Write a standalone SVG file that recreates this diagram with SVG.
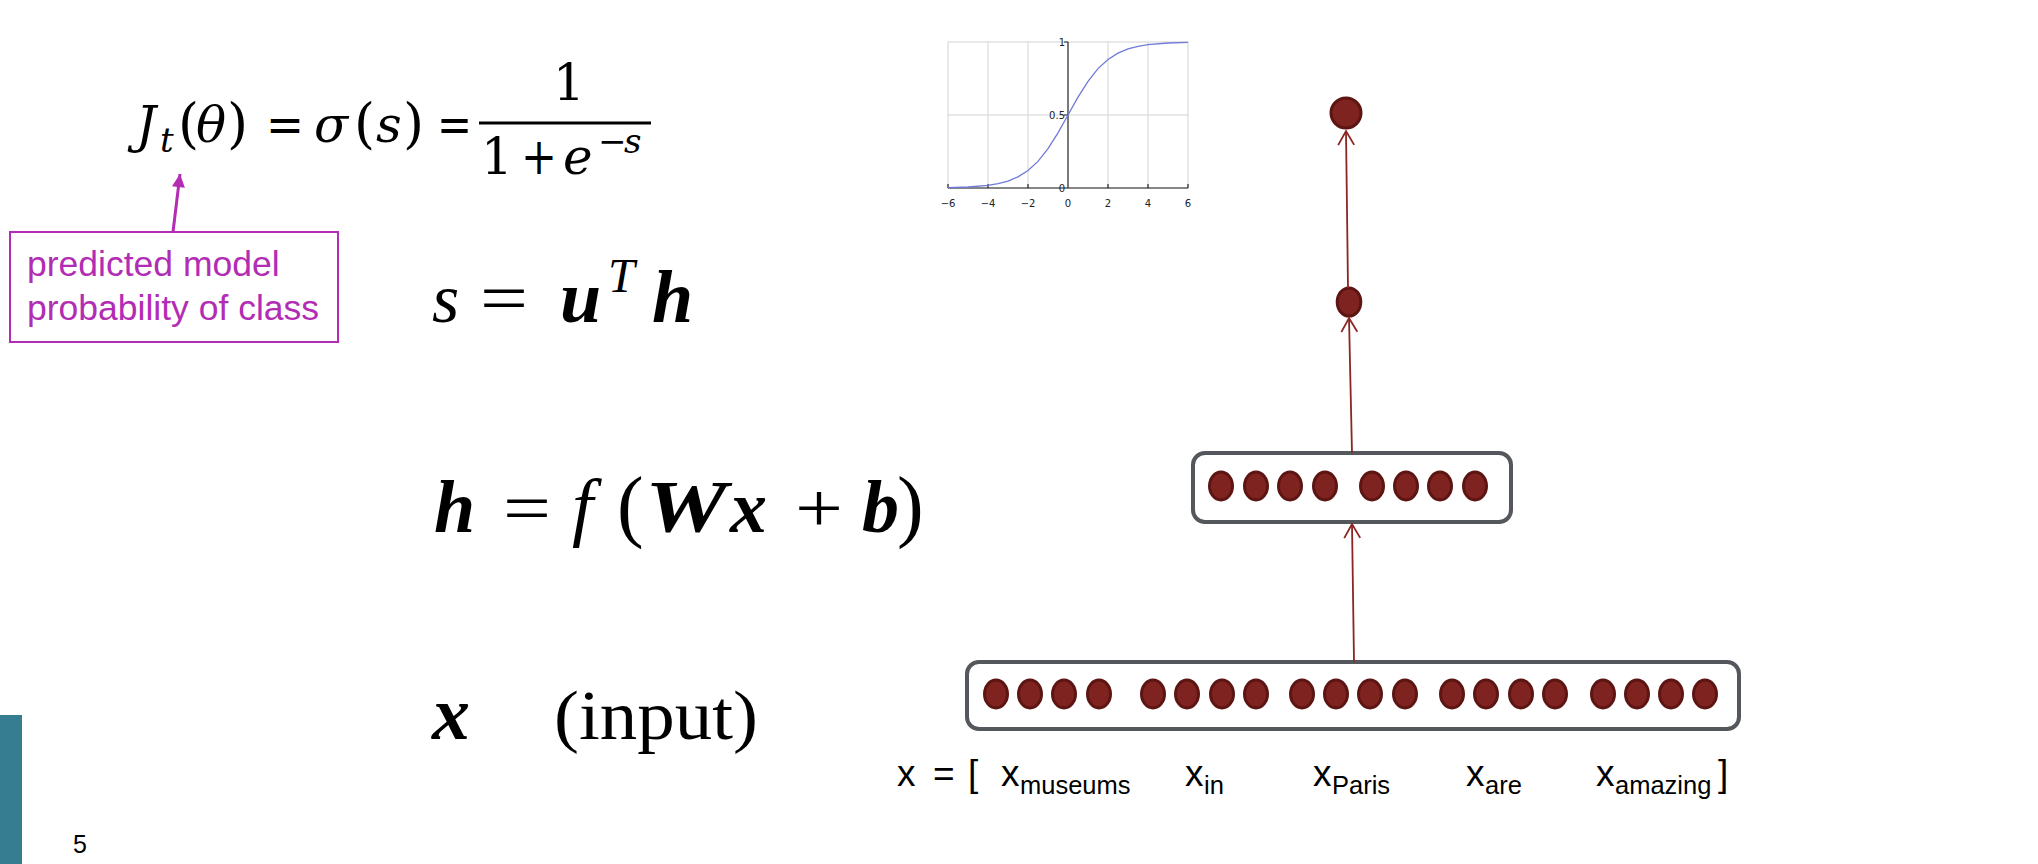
<svg xmlns="http://www.w3.org/2000/svg" width="2038" height="864" viewBox="0 0 2038 864">
<style>
.m{font-family:"Liberation Serif","DejaVu Serif",serif;fill:#000}
.c{font-family:"DejaVu Serif","Liberation Serif",serif;fill:#000}
.i{font-style:italic}
.bi{font-style:italic;font-weight:bold}
.lab{font-family:"Liberation Sans",Arial,sans-serif;fill:#000}
.ann{font-family:"Liberation Sans",Arial,sans-serif;fill:#b22cb4;font-size:35.5px}
.tick{font-family:"DejaVu Sans","Liberation Sans",sans-serif;font-size:10px;fill:#222}
.box{fill:#fff;stroke:#54575c;stroke-width:4}
.n{fill:#7f2320;stroke:#5c1512;stroke-width:3}
.grid{stroke:#d4d4d4;stroke-width:1;fill:none}
.ax{stroke:#222;stroke-width:1.2;fill:none}
.conn{stroke:#8b2622;stroke-width:1.8;fill:none}
</style>
<defs>
<marker id="open" viewBox="-16 -10 18 20" refX="0" refY="0" markerWidth="18" markerHeight="20" markerUnits="userSpaceOnUse" orient="auto">
<path d="M-14,-8 L0,0 L-14,8" fill="none" stroke="#8b2622" stroke-width="1.8"/>
</marker>
<marker id="mag" viewBox="-14 -8 16 16" refX="0" refY="0" markerWidth="16" markerHeight="16" markerUnits="userSpaceOnUse" orient="auto">
<path d="M-13,-6.5 L0,0 L-13,6.5 Z" fill="#b22cb4"/>
</marker>
</defs>
<rect width="2038" height="864" fill="#fff"/>

<g id="formula-sigmoid" class="c" font-size="50">
<text x="136" y="142" class="i">J</text>
<text x="160" y="152" class="i" font-size="34">t</text>
<text x="178" y="142" font-size="54">(</text>
<text x="196" y="142" class="i">θ</text>
<text x="227" y="142" font-size="54">)</text>
<text x="266" y="142" textLength="38" lengthAdjust="spacingAndGlyphs">=</text>
<text x="314" y="142" class="i">σ</text>
<text x="354" y="142" font-size="54">(</text>
<text x="376" y="142" class="i">s</text>
<text x="403" y="142" font-size="54">)</text>
<text x="437" y="142" textLength="35" lengthAdjust="spacingAndGlyphs">=</text>
<rect x="479" y="121.5" width="172" height="3"/>
<text x="553" y="100">1</text>
<text x="481" y="174">1</text>
<text x="521" y="174" textLength="36" lengthAdjust="spacingAndGlyphs">+</text>
<text x="563" y="174" class="i">e</text>
<text x="598" y="153" font-size="34">−</text>
<text x="624" y="153" font-size="34" class="i">s</text>
</g>

<g id="annotation">
<rect x="10" y="232" width="328" height="110" fill="#fff" stroke="#b22cb4" stroke-width="2"/>
<text x="27" y="276" class="ann">predicted model</text>
<text x="27" y="320" class="ann">probability of class</text>
</g>

<g id="formula-score" class="m" font-size="70">
<text x="432" y="322" class="i">s</text>
<text x="480" y="322" textLength="48" lengthAdjust="spacingAndGlyphs">=</text>
<text x="560" y="322" class="bi" font-size="74">u</text>
<text x="608" y="292" class="i" font-size="48">T</text>
<text x="652" y="322" class="bi" font-size="74">h</text>
</g>

<g id="formula-hidden" class="m" font-size="70">
<text x="434" y="532" class="bi" font-size="74">h</text>
<text x="503" y="532" textLength="48" lengthAdjust="spacingAndGlyphs">=</text>
<text x="572" y="532" class="i" font-size="76">f</text>
<text x="617" y="532" font-size="80">(</text>
<text x="645" y="532" class="bi" font-size="74" textLength="82" lengthAdjust="spacingAndGlyphs">W</text>
<text x="730" y="532" class="bi" font-size="74">x</text>
<text x="795" y="532" textLength="48" lengthAdjust="spacingAndGlyphs">+</text>
<text x="862" y="532" class="bi" font-size="74">b</text>
<text x="897" y="532" font-size="80">)</text>
</g>

<g id="formula-input" class="m" font-size="70">
<text x="432" y="739" class="bi" font-size="76">x</text>
<text x="554" y="739" textLength="204" lengthAdjust="spacingAndGlyphs">(input)</text>
</g>

<g id="sigmoid-plot">
<rect x="948" y="42" width="240" height="146" class="grid"/>
<path class="grid" d="M988,42V188M1028,42V188M1108,42V188M1148,42V188M948,115H1188"/>
<path class="ax" d="M948,188H1188M1068,42V188M948,188v-4M988,188v-4M1028,188v-4M1068,188v-4M1108,188v-4M1148,188v-4M1188,188v-4M1064,42H1068M1064,115H1068M1064,188H1068"/>
<path fill="none" stroke="#6f7ad8" stroke-width="1.3" d="M948,187.6 L968,187.0 L988,185.4 L998,183.7 L1008,181.1 L1018,176.9 L1028,170.6 L1038,161.4 L1048,148.7 L1058,132.9 L1068,115 L1078,97.1 L1088,81.3 L1098,68.6 L1108,59.4 L1118,53.1 L1128,48.9 L1138,46.3 L1148,44.6 L1168,43.0 L1188,42.4"/>
<g class="tick" text-anchor="middle">
<text x="948" y="207">−6</text>
<text x="988" y="207">−4</text>
<text x="1028" y="207">−2</text>
<text x="1068" y="207">0</text>
<text x="1108" y="207">2</text>
<text x="1148" y="207">4</text>
<text x="1188" y="207">6</text>
</g>
<g class="tick" text-anchor="end">
<text x="1065" y="46">1</text>
<text x="1065" y="119">0.5</text>
<text x="1065" y="192">0</text>
</g>
</g>

<g id="node-output">
<circle cx="1346" cy="113" r="15" class="n"/>
</g>
<g id="node-score">
<ellipse cx="1349" cy="302" rx="11.8" ry="14.1" class="n"/>
</g>
<g id="node-hidden">
<rect x="1193" y="453" width="318" height="69" rx="12" class="box"/>
<ellipse cx="1221" cy="486" rx="11.5" ry="14" class="n"/>
<ellipse cx="1256" cy="486" rx="11.5" ry="14" class="n"/>
<ellipse cx="1290" cy="486" rx="11.5" ry="14" class="n"/>
<ellipse cx="1325" cy="486" rx="11.5" ry="14" class="n"/>
<ellipse cx="1372" cy="486" rx="11.5" ry="14" class="n"/>
<ellipse cx="1406" cy="486" rx="11.5" ry="14" class="n"/>
<ellipse cx="1440" cy="486" rx="11.5" ry="14" class="n"/>
<ellipse cx="1475" cy="486" rx="11.5" ry="14" class="n"/>
</g>
<g id="node-input">
<rect x="967" y="662" width="772" height="67" rx="12" class="box"/>
<ellipse cx="996" cy="694" rx="11.5" ry="14" class="n"/>
<ellipse cx="1030" cy="694" rx="11.5" ry="14" class="n"/>
<ellipse cx="1064" cy="694" rx="11.5" ry="14" class="n"/>
<ellipse cx="1099" cy="694" rx="11.5" ry="14" class="n"/>
<ellipse cx="1153" cy="694" rx="11.5" ry="14" class="n"/>
<ellipse cx="1187" cy="694" rx="11.5" ry="14" class="n"/>
<ellipse cx="1222" cy="694" rx="11.5" ry="14" class="n"/>
<ellipse cx="1256" cy="694" rx="11.5" ry="14" class="n"/>
<ellipse cx="1302" cy="694" rx="11.5" ry="14" class="n"/>
<ellipse cx="1336" cy="694" rx="11.5" ry="14" class="n"/>
<ellipse cx="1370" cy="694" rx="11.5" ry="14" class="n"/>
<ellipse cx="1405" cy="694" rx="11.5" ry="14" class="n"/>
<ellipse cx="1452" cy="694" rx="11.5" ry="14" class="n"/>
<ellipse cx="1486" cy="694" rx="11.5" ry="14" class="n"/>
<ellipse cx="1521" cy="694" rx="11.5" ry="14" class="n"/>
<ellipse cx="1555" cy="694" rx="11.5" ry="14" class="n"/>
<ellipse cx="1603" cy="694" rx="11.5" ry="14" class="n"/>
<ellipse cx="1637" cy="694" rx="11.5" ry="14" class="n"/>
<ellipse cx="1671" cy="694" rx="11.5" ry="14" class="n"/>
<ellipse cx="1705" cy="694" rx="11.5" ry="14" class="n"/>
</g>

<g id="input-labels" class="lab">
<text x="897" y="786" font-size="37">x</text>
<text x="933" y="786" font-size="37">=</text>
<text x="968" y="786" font-size="37">[</text>
<text x="1001" y="786" font-size="37">x</text>
<text x="1020" y="794" font-size="25.5">museums</text>
<text x="1185" y="786" font-size="37">x</text>
<text x="1204" y="794" font-size="25.5">in</text>
<text x="1313" y="786" font-size="37">x</text>
<text x="1332" y="794" font-size="25.5">Paris</text>
<text x="1466" y="786" font-size="37">x</text>
<text x="1485" y="794" font-size="25.5">are</text>
<text x="1596" y="786" font-size="37">x</text>
<text x="1615" y="794" font-size="25.5">amazing</text>
<text x="1718" y="786" font-size="37">]</text>
</g>

<g id="connectors">
<line x1="1354" y1="662" x2="1352" y2="524" class="conn" marker-end="url(#open)"/>
<line x1="1352" y1="453" x2="1349" y2="318" class="conn" marker-end="url(#open)"/>
<line x1="1348" y1="288" x2="1346" y2="131" class="conn" marker-end="url(#open)"/>
<line x1="173" y1="232" x2="180" y2="174" stroke="#b22cb4" stroke-width="3" marker-end="url(#mag)"/>
</g>

<g id="footer">
<rect x="0" y="715" width="22" height="149" fill="#377d91"/>
<text x="73" y="853" font-size="25" class="lab">5</text>
</g>
</svg>
